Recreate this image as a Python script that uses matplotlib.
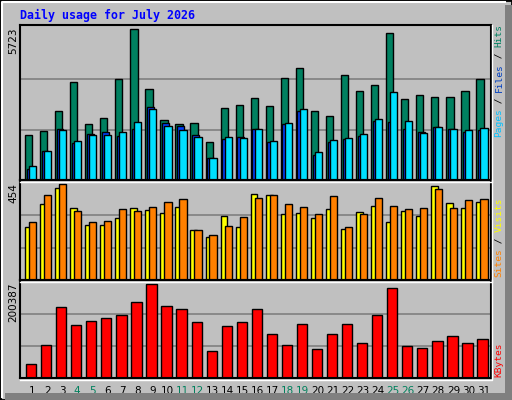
import matplotlib
matplotlib.use("Agg")
import matplotlib.pyplot as plt
from matplotlib.patches import Rectangle
from matplotlib.lines import Line2D

days = list(range(1, 32))
weekend_days = [4, 5, 11, 12, 18, 19, 25, 26]
hits = [1701, 1857, 2597, 3726, 2129, 2363, 3842, 5723, 3453, 2285, 2129, 2168, 1429, 2713, 2830, 3103,
        2791, 3881, 4232, 2597, 2441, 3959, 3375, 3609, 5555, 3064, 3219, 3142, 3142, 3375, 3842]
files = [417, 1117, 1935, 1401, 1740, 1818, 1662, 1946, 2752, 2168, 2052, 1701, 845, 1545, 1623, 1935,
         1429, 2129, 2597, 962, 1429, 1545, 1662, 2246, 2207, 1935, 1818, 2013, 1935, 1818, 1896]
pages = [533, 1117, 1896, 1468, 1701, 1701, 1818, 2207, 2674, 2052, 1896, 1623, 845, 1623, 1584, 1935,
         1468, 2168, 2674, 1078, 1507, 1584, 1740, 2324, 3336, 2246, 1779, 2013, 1935, 1896, 1974]
visits = [252, 360, 434, 341, 262, 262, 291, 341, 331, 316, 345, 237, 202, 301, 252, 405,
          400, 311, 316, 291, 336, 242, 321, 350, 276, 326, 301, 444, 365, 341, 370]
sites = [276, 400, 454, 326, 276, 281, 336, 326, 345, 370, 385, 237, 212, 257, 296, 390,
         400, 360, 345, 311, 395, 252, 311, 390, 350, 336, 341, 429, 341, 380, 385]
kbytes = [30830, 70460, 151900, 112300, 121100, 127700, 134300, 162900, 200387, 154100, 147500, 118900,
          57250, 110100, 118900, 147500, 94690, 70460, 114500, 61660, 94690, 114500, 74870, 134300,
          191600, 68260, 63860, 79270, 90280, 74870, 83680]

W, H = 512, 400
BG = "#C0C0C0"
fig = plt.figure(figsize=(W / 100, H / 100), dpi=100, facecolor=BG)

def fx(x): return x / W
def fy(y): return 1 - y / H

# bevel border
fig.patches.append(Rectangle((0, 0), 1, 1, transform=fig.transFigure, fill=False, ec="black", lw=2))
fig.lines.append(Line2D([fx(2), fx(2), fx(505)], [fy(397), fy(2), fy(2)], transform=fig.transFigure, color="white", lw=1.5))
fig.patches.append(Rectangle((fx(505), 0), fx(7), fy(5), transform=fig.transFigure, color="#808080", lw=0))
fig.patches.append(Rectangle((fx(5), 0), fx(505), fy(393), transform=fig.transFigure, color="#808080", lw=0))

fig.text(fx(20), fy(15), "Daily usage for July 2026", color="#0000FF", fontsize=8.4,
         fontweight="bold", family="DejaVu Sans Mono", va="center", ha="left")

panels = [(25, 180), (180, 280), (280, 378)]
L, R = 20, 491
axes = []
for (t, b) in panels:
    ax = fig.add_axes([fx(L), fy(b), fx(R - L), (b - t) / H])
    ax.set_facecolor(BG)
    ax.set_xlim(0, 31.3)
    for s in ax.spines.values():
        s.set_color("black"); s.set_linewidth(1.5)
    ax.set_xticks([]); ax.set_yticks([])
    axes.append(ax)
    fig.lines.append(Line2D([fx(L), fx(R + 1), fx(R + 1)], [fy(b + 1.5), fy(b + 1.5), fy(t)],
                            transform=fig.transFigure, color="white", lw=1))

x0 = [i for i in range(31)]
ek = dict(edgecolor="black", linewidth=1)

def grid(ax, top):
    for f in (1 / 3, 2 / 3):
        ax.axhline(top * f, color="#808080", lw=1.2, zorder=0)

ax = axes[0]
top = max(hits) / 0.975
ax.set_ylim(0, top); grid(ax, max(hits) * 1.0)
ax.bar([i + 0.33 for i in x0], hits, width=0.48, align="edge", color="#008060", **ek)
ax.bar([i + 0.44 for i in x0], files, width=0.45, align="edge", color="#0040FF", **ek)
ax.bar([i + 0.59 for i in x0], pages, width=0.48, align="edge", color="#00E0FF", **ek)

ax = axes[1]
top = max(sites) / 0.96
ax.set_ylim(0, top); grid(ax, max(sites) * 1.01)
ax.bar([i + 0.33 for i in x0], visits, width=0.45, align="edge", color="#FFFF00", **ek)
ax.bar([i + 0.59 for i in x0], sites, width=0.48, align="edge", color="#FF8000", **ek)

ax = axes[2]
top = max(kbytes) / 0.96
ax.set_ylim(0, top); grid(ax, max(kbytes) * 1.02)
ax.bar([i + 0.40 for i in x0], kbytes, width=0.68, align="edge", color="#FF0000", **ek)
ax.set_xticks([i + 0.8 for i in x0])
ax.set_xticklabels([str(d) for d in days], fontsize=7.5, family="DejaVu Sans")
ax.tick_params(axis="x", length=0, pad=6)
for lab, d in zip(ax.get_xticklabels(), days):
    lab.set_color("#00805C" if d in weekend_days else "black")

# max labels
for (t, b), txt in zip(panels, ["5723", "454", "200387"]):
    fig.text(fx(13), fy(t + 3), txt, rotation=90, fontsize=7.5, family="DejaVu Sans",
             va="top", ha="center", color="black")

# right labels
CW = 5.6
def vlabel(ybottom, pieces):
    y = ybottom
    for txt, col in pieces:
        fig.text(fx(499), fy(y), txt, rotation=90, fontsize=6.8, family="DejaVu Sans Mono",
                 color=col, va="bottom", ha="center")
        y -= len(txt) * CW

vlabel(137, [("Pages", "#00C0FF"), (" / ", "black"), ("Files", "#0040C0"), (" / ", "black"), ("Hits", "#008060")])
vlabel(277, [("Sites", "#FF8000"), (" / ", "black"), ("Visits", "#FFFF00")])
vlabel(377, [("KBytes", "#FF0000")])

fig.savefig("out.png", dpi=100, facecolor=BG)
